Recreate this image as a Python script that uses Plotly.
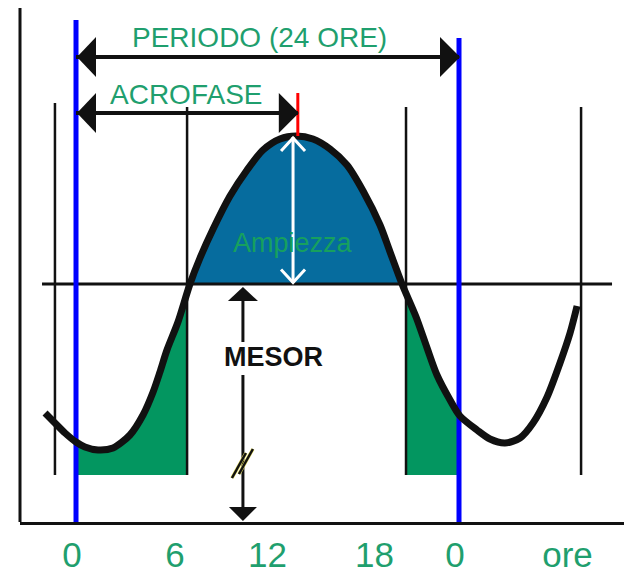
import numpy as np
import plotly.graph_objects as go

# ---- data (x in hours, y in arbitrary value units) ----
CURVE_H = [-1.94, -1.32, -0.69, 0.0, 0.56, 1.38, 2.32, 3.38, 4.20, 4.83, 5.26, 5.70, 6.39, 7.14,
           7.77, 8.59, 9.65, 10.72, 11.72, 12.78, 13.79, 14.85, 15.92, 16.98, 17.99, 19.05, 19.68,
           20.43, 21.31, 22.00, 22.62, 23.44, 24.06, 25.13, 25.94, 26.88, 27.82, 28.64, 29.52,
           30.33, 30.96, 31.40]
CURVE_V = [10.9, 9.9, 8.9, 8.0, 7.5, 7.2, 7.4, 8.7, 10.7, 13.0, 15.0, 17.2, 20.0, 23.8,
           26.4, 29.3, 32.6, 35.2, 37.2, 38.3, 38.6, 38.3, 37.3, 35.7, 33.1, 29.7, 27.0,
           23.8, 20.5, 17.4, 14.7, 12.2, 10.6, 9.2, 8.3, 7.9, 8.4, 9.9, 12.5, 15.9, 18.9, 21.6]

MESOR = 23.8
ACROPHASE = 13.9
PERIOD = 24
PERIOD_START = 0
REF_LINES_H = [-1.32, 6.96, 20.68, 31.65]
REF_LINES_TOP = [41.9, 41.5, 41.5, 41.5]
FILL_BASE = 4.7
MESOR_LINE_SPAN = [-2.13, 33.59]
BLUE_TOPS = [50.2, 48.4]
Y_AXIS_TOP = 51.4
PERIOD_ARROW_V = 46.5
ACRO_ARROW_V = 40.9
ACRO_MARK_TOP = 42.9
AMP_ARROW_H = 13.6
MESOR_ARROW_H = 10.46
MESOR_GAP = [14.7, 18.0]
BREAK_V = 4.2

TICK_POS = [-0.25, 6.2, 12.0, 18.7, 23.75, 30.8]
TICK_TEXT = ["0", "6", "12", "18", "0", "ore"]

X_RANGE = [-3.51, 34.34]
Y_RANGE = [0, 52.2]

# ---- styles ----
GREEN_TXT = "#1f9f6e"
GREEN_FILL = "#039660"
BLUE_FILL = "#066c9e"
BLUE_LINE = "#0000ff"
FONT = "Liberation Sans, Arial, sans-serif"

ch = np.array(CURVE_H)
cv = np.array(CURVE_V)
peak = cv.max()

fig = go.Figure()

# blue area (curve above mesor)
mask = cv >= MESOR - 1e-9
bx = list(ch[mask])
by = list(cv[mask])
fig.add_trace(go.Scatter(x=bx + [bx[-1], bx[0]], y=by + [MESOR, MESOR], fill="toself",
                         fillcolor=BLUE_FILL, line=dict(width=0), mode="lines",
                         hoverinfo="skip", showlegend=False))


def green_area(h0, h1):
    sel = (ch > h0) & (ch < h1)
    xs = [h0, h0] + list(ch[sel]) + [h1, h1]
    ys = [FILL_BASE, float(np.interp(h0, ch, cv))] + list(cv[sel]) + \
         [float(np.interp(h1, ch, cv)), FILL_BASE]
    fig.add_trace(go.Scatter(x=xs, y=ys, fill="toself", fillcolor=GREEN_FILL,
                             line=dict(width=0), mode="lines", hoverinfo="skip",
                             showlegend=False))


green_area(PERIOD_START, REF_LINES_H[1])
green_area(REF_LINES_H[2], PERIOD_START + PERIOD)

# thin vertical reference lines
for h, top in zip(REF_LINES_H, REF_LINES_TOP):
    fig.add_trace(go.Scatter(x=[h, h], y=[FILL_BASE, top], mode="lines",
                             line=dict(color="#111111", width=2.5), hoverinfo="skip",
                             showlegend=False))

# mesor line
fig.add_trace(go.Scatter(x=MESOR_LINE_SPAN, y=[MESOR, MESOR], mode="lines",
                         line=dict(color="#111111", width=3), hoverinfo="skip",
                         showlegend=False))

# blue period boundaries
for h, top in zip([PERIOD_START, PERIOD_START + PERIOD], BLUE_TOPS):
    fig.add_trace(go.Scatter(x=[h, h], y=[0, top], mode="lines",
                             line=dict(color=BLUE_LINE, width=5), hoverinfo="skip",
                             showlegend=False))

# rhythm curve
fig.add_trace(go.Scatter(x=CURVE_H, y=CURVE_V, mode="lines",
                         line=dict(color="#111111", width=7, shape="spline", smoothing=0.8),
                         hoverinfo="skip", showlegend=False))

# acrophase red marker
fig.add_trace(go.Scatter(x=[ACROPHASE, ACROPHASE], y=[peak, ACRO_MARK_TOP], mode="lines",
                         line=dict(color="#ff0000", width=3), hoverinfo="skip",
                         showlegend=False))

# horizontal double arrows (shafts)
for v, h1 in [(PERIOD_ARROW_V, PERIOD_START + PERIOD), (ACRO_ARROW_V, ACROPHASE)]:
    fig.add_trace(go.Scatter(x=[PERIOD_START, h1], y=[v, v], mode="lines",
                             line=dict(color="#111111", width=4), hoverinfo="skip",
                             showlegend=False))

# amplitude white arrow
fig.add_trace(go.Scatter(x=[AMP_ARROW_H, AMP_ARROW_H], y=[MESOR + 0.1, peak - 0.1], mode="lines",
                         line=dict(color="white", width=3), hoverinfo="skip",
                         showlegend=False))

# mesor arrow (split around text)
fig.add_trace(go.Scatter(x=[MESOR_ARROW_H, MESOR_ARROW_H, None, MESOR_ARROW_H, MESOR_ARROW_H],
                         y=[MESOR - 1.4, MESOR_GAP[1], None, MESOR_GAP[0], 1.0], mode="lines",
                         line=dict(color="#111111", width=3), hoverinfo="skip",
                         showlegend=False))

# y-axis line (left frame), from the bottom up to its top value
fig.add_shape(type="line", xref="paper", yref="y", x0=0, x1=0, y0=0, y1=Y_AXIS_TOP,
              line=dict(color="#111111", width=3), layer="above")


def pix_path(xa, ya, path, color, filled=True, width=0):
    fig.add_shape(type="path", xref="x", yref="y", xsizemode="pixel", ysizemode="pixel",
                  xanchor=xa, yanchor=ya, path=path,
                  fillcolor=color if filled else "rgba(0,0,0,0)",
                  line=dict(color=color, width=width), layer="above")


# arrow heads
for v, h1 in [(PERIOD_ARROW_V, PERIOD_START + PERIOD), (ACRO_ARROW_V, ACROPHASE)]:
    pix_path(PERIOD_START, v, "M 1,0 L 20,20 L 20,-20 Z", "#111111")
    pix_path(h1, v, "M 1,0 L -19,20 L -19,-20 Z", "#111111")

pix_path(MESOR_ARROW_H, MESOR - 0.3, "M 0,0 L -15,-14 L 15,-14 Z", "#111111")
pix_path(MESOR_ARROW_H, 0.1, "M 0,0 L -14,14 L 14,14 Z", "#111111")

pix_path(AMP_ARROW_H, peak - 0.2, "M -12,-13 L 0,0 L 12,-13", "white", filled=False, width=3)
pix_path(AMP_ARROW_H, MESOR + 0.15, "M -12,13 L 0,0 L 12,13", "white", filled=False, width=3)

# break marks on mesor arrow
for p in ["M -11,-13 L 3,12", "M -4,-9 L 10,16"]:
    pix_path(MESOR_ARROW_H, BREAK_V + 1.5, p, "#e8e060", filled=False, width=3.5)
for p in ["M -11,-13 L 3,12", "M -4,-9 L 10,16"]:
    pix_path(MESOR_ARROW_H, BREAK_V + 1.5, p, "#111111", filled=False, width=2.5)

# texts
fig.add_annotation(x=11.47, y=48.5, text="PERIODO (24 ORE)", showarrow=False,
                   font=dict(family=FONT, size=28, color=GREEN_TXT))
fig.add_annotation(x=6.9, y=42.8, text="ACROFASE", showarrow=False,
                   font=dict(family=FONT, size=28, color=GREEN_TXT))
fig.add_annotation(x=13.6, y=27.9, text="Ampiezza", showarrow=False,
                   font=dict(family=FONT, size=27, color="#17a05e"))
fig.add_annotation(x=12.4, y=16.5, text="<b>MESOR</b>", showarrow=False,
                   font=dict(family=FONT, size=27, color="#111111"))

fig.update_layout(
    width=624, height=577, autosize=False,
    margin=dict(l=20, r=0, t=0, b=55, autoexpand=False),
    paper_bgcolor="white", plot_bgcolor="white",
    showlegend=False,
    xaxis=dict(range=X_RANGE, showgrid=False, zeroline=False, showline=True,
               automargin=False,
               linecolor="#111111", linewidth=3, tickmode="array", tickvals=TICK_POS,
               ticktext=TICK_TEXT, ticks="", ticklen=0,
               tickfont=dict(family=FONT, size=35, color=GREEN_TXT)),
    yaxis=dict(range=Y_RANGE, showgrid=False, zeroline=False, showline=False,
               automargin=False, showticklabels=False, ticks=""),
)

fig.write_html("out.html", config={"displayModeBar": False},
               post_script="document.body.style.margin='0';document.body.style.overflow='hidden';")
